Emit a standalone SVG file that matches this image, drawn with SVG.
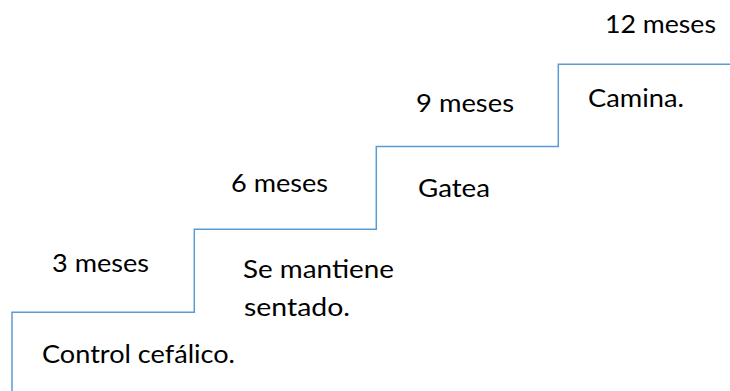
<svg xmlns="http://www.w3.org/2000/svg" width="730" height="391" viewBox="0 0 730 391">
<style>
.t{font-family:Lato,"Open Sans","Liberation Sans",sans-serif;font-size:25px;fill:#000}
.stair{fill:none;stroke:#5B9BD5;stroke-width:1.5}
</style>
<rect width="730" height="391" fill="#fff"/>
<g id="connectors">
<path class="stair" d="M12 391 V312.3 H194.3 V229.3 H376.3 V146.5 H558.3 V64.3 H730"/>
</g>
<g id="step3">
<text class="t" x="52" y="272" textLength="97" lengthAdjust="spacingAndGlyphs">3 meses</text>
<text class="t" x="42" y="363" textLength="193" lengthAdjust="spacingAndGlyphs">Control cefálico.</text>
</g>
<g id="step6">
<text class="t" x="231" y="192" textLength="97" lengthAdjust="spacingAndGlyphs">6 meses</text>
<text class="t" x="243" y="278" textLength="151" lengthAdjust="spacingAndGlyphs">Se mantiene</text>
<text class="t" x="244" y="316" textLength="106" lengthAdjust="spacingAndGlyphs">sentado.</text>
</g>
<g id="step9">
<text class="t" x="416" y="112" textLength="98" lengthAdjust="spacingAndGlyphs">9 meses</text>
<text class="t" x="418" y="197" textLength="72" lengthAdjust="spacingAndGlyphs">Gatea</text>
</g>
<g id="step12">
<text class="t" x="605" y="33" textLength="111" lengthAdjust="spacingAndGlyphs">12 meses</text>
<text class="t" x="588" y="107" textLength="96" lengthAdjust="spacingAndGlyphs">Camina.</text>
</g>
</svg>
